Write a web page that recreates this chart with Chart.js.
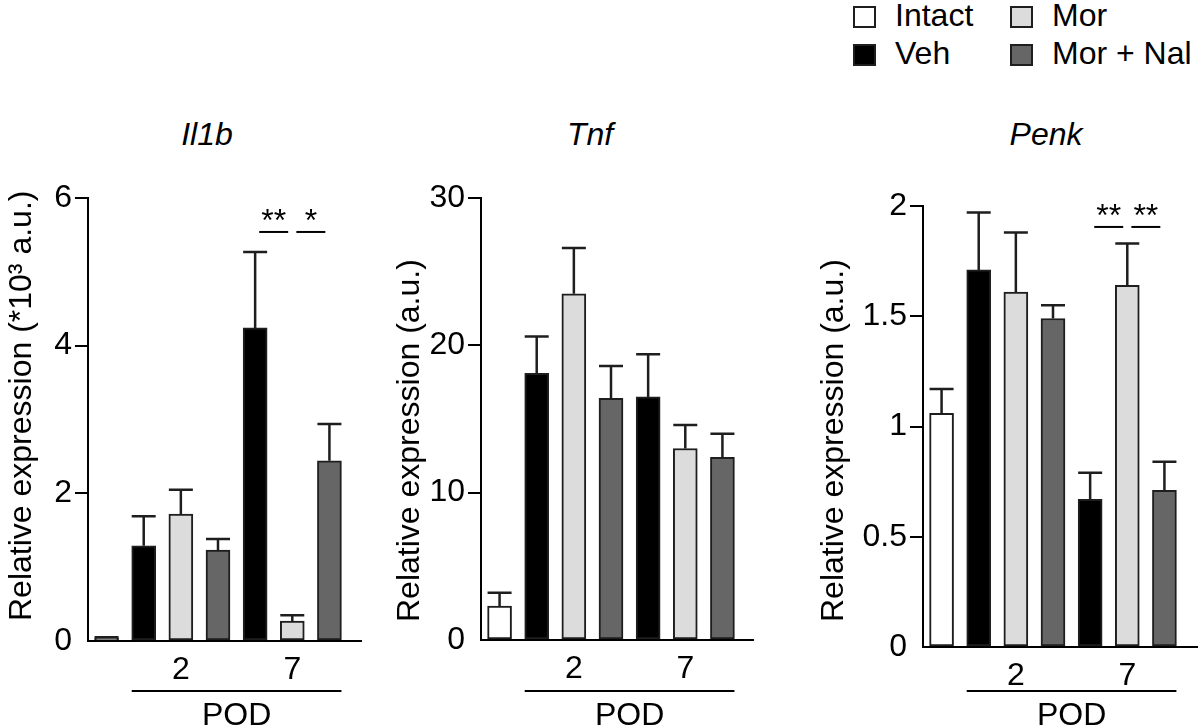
<!DOCTYPE html>
<html><head><meta charset="utf-8">
<script src="https://cdn.jsdelivr.net/npm/chart.js@4.4.1/dist/chart.umd.min.js"></script>
<style>
html,body{margin:0;padding:0;background:#fff;}
#wrap{position:relative;width:1200px;height:727px;overflow:hidden;font-family:'Liberation Sans',Arial,sans-serif;color:#000;}
canvas{position:absolute;top:0;}
.title{position:absolute;font-style:italic;font-size:32px;line-height:1;transform:translate(-50%,-50%);white-space:nowrap;}
.lg{position:absolute;font-size:32px;line-height:1;white-space:nowrap;}
.box{position:absolute;width:19px;height:18px;border:2px solid #1e1e1e;}
.ytitle{position:absolute;font-size:32px;line-height:1;white-space:nowrap;transform-origin:0 0;transform:rotate(-90deg);}
</style></head>
<body>
<div id="wrap">
  <div class="box" style="left:853px;top:6px;background:#ffffff"></div>
  <div class="lg" style="left:895px;top:-1px">Intact</div>
  <div class="box" style="left:853px;top:44px;background:#000000"></div>
  <div class="lg" style="left:895px;top:37px">Veh</div>
  <div class="box" style="left:1010px;top:6px;background:#dcdcdc"></div>
  <div class="lg" style="left:1052px;top:-1px">Mor</div>
  <div class="box" style="left:1010px;top:44px;background:#666666"></div>
  <div class="lg" style="left:1052px;top:37px">Mor + Nal</div>
  <div class="title" style="left:207px;top:134px">Il1b</div>
  <div class="title" style="left:590px;top:134px">Tnf</div>
  <div class="title" style="left:1046px;top:134px">Penk</div>
  <canvas id="c1" width="380" height="727" style="left:0px"></canvas>
  <canvas id="c2" width="410" height="727" style="left:380px"></canvas>
  <canvas id="c3" width="410" height="727" style="left:790px"></canvas>
  <div class="ytitle" style="left:4px;top:621px">Relative expression (*10³ a.u.)</div>
  <div class="ytitle" style="left:392px;top:622px">Relative expression (a.u.)</div>
  <div class="ytitle" style="left:816px;top:622px">Relative expression (a.u.)</div>
</div>
<script>
// ---- data ----
const barLabels = ['Intact', 'Veh', 'Mor', 'Mor + Nal', 'Veh', 'Mor', 'Mor + Nal'];
const podTicks = ['', '', '2', '', '', '7', ''];
const il1bMean = [0.04, 1.29, 1.72, 1.23, 4.24, 0.27, 2.44];
const il1bSem  = [0.01, 0.40, 0.33, 0.15, 1.03, 0.08, 0.50];
const tnfMean  = [2.3, 18.1, 23.5, 16.4, 16.5, 13.0, 12.4];
const tnfSem   = [0.9, 2.5, 3.1, 2.2, 2.9, 1.6, 1.6];
const penkMean = [1.06, 1.71, 1.61, 1.49, 0.67, 1.64, 0.71];
const penkSem  = [0.11, 0.26, 0.27, 0.06, 0.12, 0.19, 0.13];
const il1bSig = [['**', 4, 5], ['*', 5, 6]];
const penkSig = [['**', 4, 5], ['**', 5, 6]];
const il1bSigLevel = 5.54;
const penkSigLevel = 1.905;

// ---- styles ----
const FONT = "'Liberation Sans', Arial, sans-serif";
const FS = 32;
const fills = {'Intact': '#ffffff', 'Veh': '#000000', 'Mor': '#dcdcdc', 'Mor + Nal': '#666666'};
const EDGE = '#1e1e1e';
Chart.defaults.font.family = FONT;
Chart.defaults.color = '#000';

const decor = {
  id: 'decor',
  afterDatasetsDraw(chart, args, o) {
    const {ctx, chartArea} = chart;
    const y = chart.scales.y, x = chart.scales.x;
    const meta = chart.getDatasetMeta(0);
    const vals = chart.data.datasets[0].data;
    ctx.save();
    ctx.strokeStyle = EDGE; ctx.lineWidth = 2.5; ctx.lineCap = 'butt';
    meta.data.forEach((bar, i) => {
      const top = y.getPixelForValue(vals[i] + o.sem[i]);
      const base = y.getPixelForValue(vals[i]);
      const half = bar.width / 2;
      ctx.beginPath();
      ctx.moveTo(bar.x, base); ctx.lineTo(bar.x, top);
      ctx.moveTo(bar.x - half, top); ctx.lineTo(bar.x + half, top);
      ctx.stroke();
    });
    ctx.lineWidth = 2; ctx.strokeStyle = '#000'; ctx.fillStyle = '#000';
    ctx.font = FS + 'px ' + FONT; ctx.textAlign = 'center'; ctx.textBaseline = 'alphabetic';
    (o.sig || []).forEach(([txt, a, b]) => {
      const xa = meta.data[a].x, xb = meta.data[b].x;
      const mid = (xa + xb) / 2, half = (xb - xa) * 0.39;
      const yy = y.getPixelForValue(o.sigLevel);
      ctx.beginPath(); ctx.moveTo(mid - half, yy); ctx.lineTo(mid + half, yy); ctx.stroke();
      ctx.fillText(txt, mid, yy - 1);
    });
    ctx.beginPath(); ctx.moveTo(chartArea.right - 1, chartArea.bottom); ctx.lineTo(chartArea.right + o.extend, chartArea.bottom); ctx.stroke();
    const b1 = meta.data[1], b6 = meta.data[6];
    const ly = x.bottom - 36;
    ctx.beginPath(); ctx.moveTo(b1.x - b1.width / 2, ly); ctx.lineTo(b6.x + b6.width / 2, ly); ctx.stroke();
    ctx.textBaseline = 'middle';
    ctx.fillText('POD', (b1.x - b1.width / 2 + b6.x + b6.width / 2) / 2, x.bottom - 11);
    ctx.restore();
  }
};

function makePanel(id, c) {
  return new Chart(document.getElementById(id), {
    type: 'bar',
    data: {
      labels: barLabels,
      datasets: [{
        data: c.mean,
        backgroundColor: barLabels.map(l => fills[l]),
        borderColor: EDGE, borderWidth: 2, borderSkipped: false,
        barThickness: 24
      }]
    },
    options: {
      responsive: false, animation: false, devicePixelRatio: 1,
      layout: {padding: {left: c.padLeft, right: c.padRight, top: c.top, bottom: 0}},
      plugins: {
        legend: {display: false}, tooltip: {enabled: false},
        decor: {sem: c.sem, sig: c.sig, sigLevel: c.sigLevel, extend: c.extend}
      },
      scales: {
        x: {
          type: 'category', offset: true,
          grid: {display: false, drawTicks: false},
          border: {display: true, color: '#000', width: 2},
          ticks: {padding: 10, autoSkip: false, maxRotation: 0, color: '#000', font: {size: FS},
                  callback: (v, i) => podTicks[i]},
          afterFit: s => { s.height = c.xHeight; }
        },
        y: {
          min: 0, max: c.max,
          ticks: {stepSize: c.step, padding: 3, color: '#000', font: {size: FS},
                  callback: v => String(v)},
          grid: {drawOnChartArea: false, drawTicks: true, tickLength: 13, lineWidth: 2,
                 color: ctx => (ctx.tick && ctx.tick.value === 0) ? 'rgba(0,0,0,0)' : '#000'},
          border: {display: true, color: '#000', width: 2},
          afterFit: s => { s.width = c.yWidth; }
        }
      }
    },
    plugins: [decor]
  });
}

makePanel('c1', {mean: il1bMean, sem: il1bSem, sig: il1bSig, sigLevel: il1bSigLevel, max: 6, step: 2,
  padLeft: 2, yWidth: 86, padRight: 32, top: 198, xHeight: 86, extend: 14});
makePanel('c2', {mean: tnfMean, sem: tnfSem, sig: [], sigLevel: 0, max: 30, step: 10,
  padLeft: 10, yWidth: 91, padRight: 49, top: 198, xHeight: 87, extend: 13});
makePanel('c3', {mean: penkMean, sem: penkSem, sig: penkSig, sigLevel: penkSigLevel, max: 2, step: 0.5,
  padLeft: 24, yWidth: 109, padRight: 17, top: 206, xHeight: 80, extend: 15});
</script>
</body></html>
